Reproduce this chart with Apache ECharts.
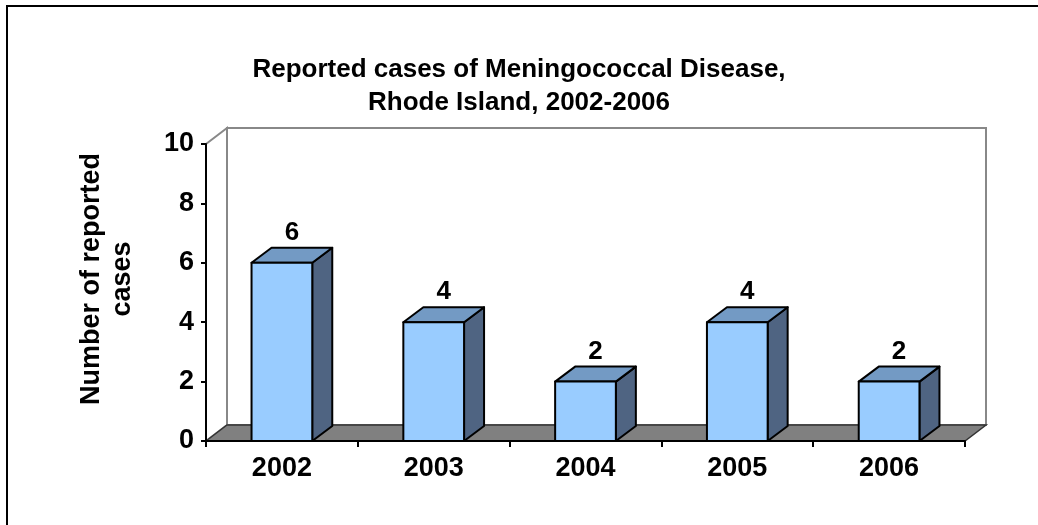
<!DOCTYPE html>
<html>
<head>
<meta charset="utf-8">
<script src="https://cdn.jsdelivr.net/npm/echarts@6/dist/echarts.min.js"></script>
<style>
  html, body { margin: 0; padding: 0; background: #fff; }
  #main { width: 1038px; height: 525px; }
</style>
</head>
<body>
<div id="main"></div>
<script>
var years = ['2002', '2003', '2004', '2005', '2006'];
var cases = [6, 4, 2, 4, 2];
var yTicks = { min: 0, max: 10, interval: 2 };

var FONT = '"Liberation Sans", Arial, sans-serif';
var DX = 21, DY = -16;   // depth of the 3d look

var chart = echarts.init(document.getElementById('main'), null, { renderer: 'canvas' });

function renderBackdrop(params, api) {
  var r = params.coordSys;
  var yb = r.y + r.height;
  return {
    type: 'group',
    children: [{
      type: 'rect',
      shape: { x: r.x + DX, y: r.y + DY, width: r.width, height: r.height },
      style: { fill: '#fff', stroke: '#888', lineWidth: 2 }
    }, {
      type: 'polygon',
      shape: { points: [[r.x, r.y], [r.x + DX, r.y + DY], [r.x + DX, yb + DY], [r.x, yb]] },
      style: { fill: '#fff', stroke: '#888', lineWidth: 2 }
    }, {
      type: 'polygon',
      shape: { points: [[r.x, yb], [r.x + DX, yb + DY], [r.x + r.width + DX, yb + DY], [r.x + r.width, yb]] },
      style: { fill: '#808080', stroke: '#333', lineWidth: 1.5 }
    }]
  };
}

function renderBar(params, api) {
  var top = api.coord([api.value(0), api.value(1)]);
  var base = api.coord([api.value(0), 0]);
  var w = api.size([1, 0])[0] * 0.4;
  var x0 = top[0] - w / 2, x1 = top[0] + w / 2;
  var y0 = top[1], yb = base[1];
  var dx = 20, dy = -15;
  var edge = { stroke: '#000', lineWidth: 2, lineJoin: 'round' };
  return {
    type: 'group',
    children: [{
      type: 'polygon',
      shape: { points: [[x1, y0], [x1 + dx, y0 + dy], [x1 + dx, yb + dy], [x1, yb]] },
      style: Object.assign({ fill: '#4F6482' }, edge)
    }, {
      type: 'polygon',
      shape: { points: [[x0, y0], [x0 + dx, y0 + dy], [x1 + dx, y0 + dy], [x1, y0]] },
      style: Object.assign({ fill: '#739AC4' }, edge)
    }, {
      type: 'rect',
      shape: { x: x0, y: y0, width: w, height: yb - y0 },
      style: Object.assign({ fill: '#99CCFF' }, edge)
    }, {
      type: 'text',
      x: top[0] + dx / 2,
      y: y0 + dy - 2,
      style: {
        text: String(api.value(1)),
        font: 'bold 26px ' + FONT,
        fill: '#000',
        align: 'center', textAlign: 'center',
        verticalAlign: 'bottom', textVerticalAlign: 'bottom'
      }
    }]
  };
}

var option = {
  backgroundColor: '#fff',
  animation: false,
  title: {
    text: 'Reported cases of Meningococcal Disease,\nRhode Island, 2002-2006',
    left: 'center',
    top: 48,
    textStyle: { fontFamily: FONT, fontSize: 26, fontWeight: 'bold', color: '#000', lineHeight: 33 }
  },
  grid: { left: 206, right: 73, top: 144, bottom: 84 },
  xAxis: {
    type: 'category',
    data: years,
    z: 5,
    axisLine: { lineStyle: { color: '#000', width: 2 } },
    axisTick: { show: true, length: 6, lineStyle: { color: '#000', width: 2 } },
    axisLabel: { fontFamily: FONT, fontSize: 27, fontWeight: 'bold', color: '#000', margin: 14 }
  },
  yAxis: {
    type: 'value',
    min: yTicks.min, max: yTicks.max, interval: yTicks.interval,
    z: 5,
    axisLine: { show: true, lineStyle: { color: '#000', width: 2 } },
    axisTick: { show: true, length: 5, lineStyle: { color: '#000', width: 2 } },
    axisLabel: { fontFamily: FONT, fontSize: 27, fontWeight: 'bold', color: '#000', margin: 12 },
    splitLine: { show: false }
  },
  graphic: [{
    type: 'rect',
    shape: { x: 7, y: 6, width: 1100, height: 600 },
    style: { fill: 'none', stroke: '#000', lineWidth: 2 },
    z: 100
  }, {
    type: 'text',
    x: 107, y: 279,
    rotation: Math.PI / 2,
    style: {
      text: 'Number of reported\ncases',
      font: 'bold 27px ' + FONT,
      fill: '#000',
      lineHeight: 31,
      align: 'center', textAlign: 'center',
      verticalAlign: 'middle', textVerticalAlign: 'middle'
    }
  }],
  series: [{
    type: 'custom',
    name: 'backdrop',
    silent: true,
    z: 1,
    renderItem: renderBackdrop,
    data: [[0, 0]]
  }, {
    type: 'custom',
    name: 'Cases',
    z: 3,
    renderItem: renderBar,
    encode: { x: 0, y: 1 },
    data: years.map(function (y, i) { return [y, cases[i]]; })
  }]
};

chart.setOption(option);
</script>
</body>
</html>
